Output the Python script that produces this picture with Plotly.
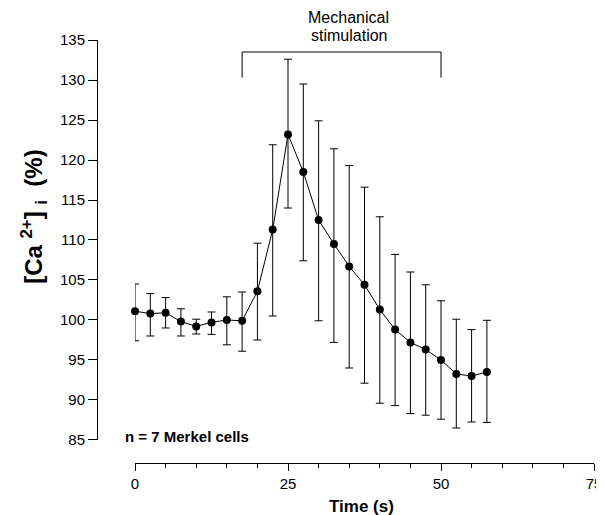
import plotly.graph_objects as go

time_s = [0, 2.5, 5, 7.5, 10, 12.5, 15, 17.5, 20, 22.5, 25, 27.5, 30, 32.5,
          35, 37.5, 40, 42.5, 45, 47.5, 50, 52.5, 55, 57.5]
ca_mean = [101.1, 100.8, 100.9, 99.8, 99.2, 99.7, 100.0, 99.9, 103.6, 111.3,
           123.2, 118.5, 112.5, 109.5, 106.7, 104.4, 101.3, 98.8, 97.2, 96.3,
           95.0, 93.25, 93.0, 93.5]
ca_upper = [104.5, 103.3, 102.8, 101.4, 100.1, 101.0, 102.9, 103.5, 109.6, 121.9,
            132.6, 129.5, 124.9, 121.4, 119.3, 116.6, 112.9, 108.2, 106.0, 104.4,
            102.4, 100.1, 98.8, 99.96]
ca_lower = [97.4, 98.0, 99.0, 98.0, 98.25, 98.2, 96.9, 96.1, 97.5, 100.5,
            114.0, 107.4, 99.9, 97.2, 94.0, 92.1, 89.6, 89.3, 88.3, 88.1,
            87.6, 86.5, 87.25, 87.2]
stim_start, stim_end = 17.5, 50
x_ticks = [0, 25, 50, 75]
y_ticks = [85, 90, 95, 100, 105, 110, 115, 120, 125, 130, 135]

err_plus = [u - m for u, m in zip(ca_upper, ca_mean)]
err_minus = [m - l for m, l in zip(ca_mean, ca_lower)]

FONT = "Liberation Sans, Arial, sans-serif"

fig = go.Figure()
fig.add_trace(go.Scatter(
    x=time_s, y=ca_mean, mode="lines+markers",
    line=dict(color="black", width=1),
    marker=dict(color="black", size=8),
    error_y=dict(type="data", symmetric=False, array=err_plus, arrayminus=err_minus,
                 color="black", thickness=1, width=4),
    cliponaxis=False, showlegend=False,
))

# stimulation bracket
for x0, x1, y0, y1 in [(stim_start, stim_end, 133.5, 133.5),
                       (stim_start, stim_start, 133.5, 130.3),
                       (stim_end, stim_end, 133.5, 130.3)]:
    fig.add_shape(type="line", xref="x", yref="y", x0=x0, x1=x1, y0=y0, y1=y1,
                  line=dict(color="black", width=1))

def note(x, y, text, size, **kw):
    args = dict(x=x, y=y, xref="paper", yref="paper", text=text, showarrow=False,
                xanchor="center", yanchor="middle",
                font=dict(family=FONT, size=size, color="black"))
    args.update(kw)
    fig.add_annotation(**args)

note(0.507, 1.0532, "Mechanical", 16)
note(0.507, 1.0095, "stimulation", 16)
note(0.0523, 0.0615, "<b>n = 7 Merkel cells</b>", 15, xanchor="left")
note(0.533, -0.1017, "<b>Time (s)</b>", 17)
note(-0.127, 0.584, "<b>[Ca <sup>2+</sup>] <sub>i</sub>  (%)</b>", 24, textangle=-90)

# page body has an 8px default margin: figure is sized to fill the rest of the window
fig.update_layout(
    width=596, height=507,
    margin=dict(l=89, r=10, t=32, b=52),
    paper_bgcolor="white", plot_bgcolor="white",
    font=dict(family=FONT, size=15, color="black"),
    xaxis=dict(domain=[0.0765, 1.0], range=[0, 75], anchor="free", position=0, automargin=False,
               tickvals=x_ticks, ticks="outside", ticklen=7, tickwidth=1, tickcolor="black",
               showline=True, linecolor="black", linewidth=1, showgrid=False, zeroline=False,
               minor=dict(dtick=5, tick0=0, ticks="outside", ticklen=4, tickcolor="black", showgrid=False),
               tickfont=dict(size=15)),
    yaxis=dict(domain=[0.0544, 1.0], range=[85, 135], anchor="free", position=0, automargin=False,
               tickvals=y_ticks, ticks="outside", ticklen=9, tickwidth=1, tickcolor="black",
               showline=True, linecolor="black", linewidth=1, showgrid=False, zeroline=False,
               tickfont=dict(size=15)),
)

fig.write_html("out.html", post_script="document.body.style.overflow='hidden';")
